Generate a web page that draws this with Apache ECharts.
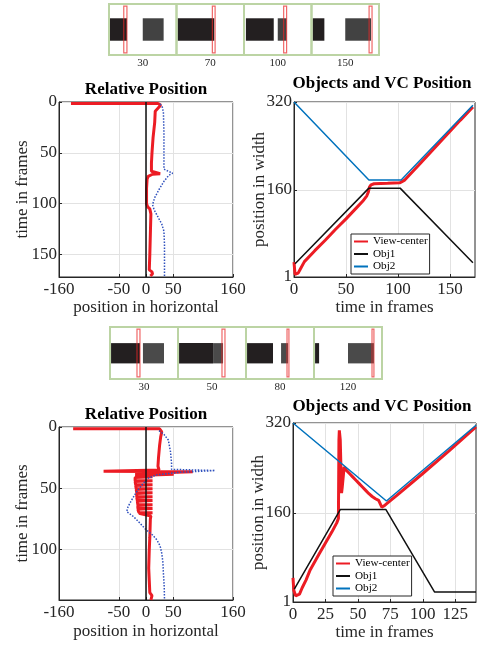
<!DOCTYPE html>
<html>
<head>
<meta charset="utf-8">
<script src="https://cdn.jsdelivr.net/npm/echarts@6/dist/echarts.min.js"></script>
<style>html,body{margin:0;padding:0;background:#fff}#chart{width:486px;height:646px}</style>
</head>
<body>
<div id="chart"></div>
<script>
// ---------- frame strips: [frame slot, left, right] in image columns (0..320) ----------
const stripTopLabels = ['30', '70', '100', '150'];
const stripTopObj1 = [[0, 0, 85], [1, 5, 179], [2, 9, 141], [3, 5, 61]];
const stripTopObj2 = [[0, 160, 259], [2, 160, 202], [3, 160, 282]];
const stripTopVC = [[0, 70, 85], [1, 170, 183], [2, 188, 202], [3, 273, 287]];

const stripBotLabels = ['30', '50', '80', '120'];
const stripBotObj1 = [[0, 5, 141], [1, 5, 165], [2, 5, 127], [3, 5, 24]];
const stripBotObj2 = [[0, 155, 254], [1, 165, 212], [2, 165, 198], [3, 160, 282]];
const stripBotVC = [[0, 127, 141], [1, 207, 221], [2, 193, 202], [3, 273, 282]];

// ---------- sequence A: relative position [horizontal, frame] ----------
const relRedA = [[-138, 1.5], [22, 1.5], [27, 3], [24, 5], [17, 9], [16, 20], [13, 35], [11, 50], [10, 60],
  [10, 68], [12, 69.5], [26, 70.5], [12, 71], [4, 73], [2, 76], [1, 85], [1, 100], [3, 103], [7, 105],
  [9, 110], [8, 130], [7, 150], [6, 165], [11, 167], [12, 169], [8, 171]];
const relBlueA = [[26, 2], [30, 5], [32, 10], [33, 30], [33, 50], [33, 66], [49, 70], [42, 72], [33, 78],
  [24, 86], [16, 94], [12, 101], [15, 106], [22, 113], [29, 120], [33, 127], [34, 140], [34, 172]];
const relZeroA = [[0, 0], [0, 172]];

// ---------- sequence A: absolute position [frame, width] ----------
const vcA = [[0, 28], [1, 6], [2.5, 3], [4, 8], [6, 15], [10, 29], [20, 49], [30, 68], [40, 88], [50, 107],
  [60, 127], [66, 139], [70, 149], [71.5, 156], [72.5, 165], [74, 169], [77, 171], [90, 172], [102, 173],
  [106, 177], [120, 205], [140, 246], [160, 287], [172, 311]];
const obj1A = [[1, 25], [72, 163], [102, 163], [172, 27]];
const obj2A = [[0, 320], [72, 178], [103, 178], [172, 314]];

// ---------- sequence B: relative position ----------
const relRedB = [[-134, 1.5], [25, 1.5], [29, 4], [27, 8], [25, 15], [23, 25], [22, 32], [24, 35],
  [-78, 36], [86, 36.4], [-20, 38], [51, 38.6], [-20, 39.5],
  [-20, 40.5], [12, 40.5], [-20, 41.1], [-20, 43.8], [12, 43.8], [-20, 44.4], [-19, 47], [12, 47], [-19, 47.6],
  [-18, 50.3], [12, 50.3], [-18, 50.9], [-17, 53.5], [12, 53.5], [-17, 54.1], [-17, 56.8], [12, 56.8],
  [-17, 57.4], [-16, 60], [12, 60], [-16, 60.6], [-15, 63.3], [12, 63.3], [-15, 63.9], [-15, 66.5],
  [12, 66.5], [-15, 67.1], [-13, 69.8], [12, 69.8], [-13, 70.4], [9, 72.5], [8, 75], [7, 90], [6, 100],
  [5, 115], [6, 125], [7, 135], [11, 137.5], [12, 139], [9, 141]];
const relBlueB = [[24, 3], [33, 6], [41, 10.6], [45, 20], [47, 29.5], [47, 34.5], [127, 35.5], [60, 37],
  [20, 39], [4, 41.7], [-5, 46], [-17, 52.6], [-27, 60], [-33, 65], [-35.5, 69], [-23, 73], [-12, 78],
  [0, 83.7], [12, 88], [20, 92], [26, 97], [29, 103], [31, 110], [32, 119], [33.5, 130], [34, 141]];
const relZeroB = [[0, 0], [0, 141]];

// ---------- sequence B: absolute position ----------
const vcB = [[0, 44], [0.6, 22], [2, 12], [3.3, 10], [5, 15], [7, 26], [10, 40], [13, 57], [20, 86],
  [25, 106], [30, 126], [33.7, 142], [35, 150], [35.4, 290], [35.7, 307], [36.4, 290], [37.4, 195],
  [37.9, 205], [39.4, 242], [41, 236], [42, 237], [43.5, 230], [44.5, 231], [46, 224], [47, 225],
  [48.5, 218], [49.5, 219], [51, 212], [52, 213], [53.5, 206], [54.5, 207], [56, 200], [57, 201],
  [58.5, 194], [59.5, 195], [61, 189], [62, 190], [63.5, 185], [64.5, 186], [66, 182], [67, 180],
  [68.4, 170], [70, 172], [72, 176], [80, 191], [100, 230], [120, 270], [141, 313]];
const obj1B = [[1, 24], [36.5, 166], [71.5, 166], [109, 19], [141, 19]];
const obj2B = [[0, 320], [72, 181], [141, 316]];

// ---------- tick labels ----------
const relTicks = [-160, -50, 0, 50, 160];
const frameTicksA = [0, 50, 100, 150];
const frameTicksB = [0, 50, 100];
const widthTicks = [1, 160, 320];
const timeTicksA = [0, 50, 100, 150];
const timeTicksB = [0, 25, 50, 75, 100, 125];

const FONT = 'Liberation Serif';
const INK = '#262626';
const RED = '#ec1c24';
const BLACK = '#111111';
const BLUE = '#0072BD';
const DOT = '#2f50bd';

function plotAxis(grid, ticks, extra, labelMargin) {
  return Object.assign({
    type: 'value', gridIndex: grid,
    axisLine: { show: true, onZero: false, lineStyle: { color: INK, width: 1 } },
    axisTick: { show: true, inside: true, length: 3, customValues: ticks, lineStyle: { color: INK } },
    axisLabel: { color: INK, fontFamily: FONT, fontSize: 17, margin: labelMargin || 4, customValues: ticks },
    splitLine: { show: true, lineStyle: { color: '#e2e2e2', width: 1 } },
    nameLocation: 'middle',
    nameMoveOverlap: false,
    nameTextStyle: { color: INK, fontFamily: FONT, fontSize: 17 }
  }, extra);
}

function line(name, data, x, y, color, width, type) {
  return {
    type: 'line', name, data, xAxisIndex: x, yAxisIndex: y,
    symbol: 'none', showSymbol: false, animation: false, clip: true,
    lineStyle: { color, width, type: type || 'solid' }, itemStyle: { color }
  };
}

// strip drawing: frame slots hold 320 image columns each
function barSeries(data, x, y, fill, y0, y1, outline) {
  return {
    type: 'custom', data, xAxisIndex: x, yAxisIndex: y, animation: false, z: outline ? 4 : 3,
    renderItem: function (params, api) {
      const f = api.value(0), a = api.value(1), b = api.value(2);
      const p0 = api.coord([f + a / 320, y1]);
      const p1 = api.coord([f + b / 320, y0]);
      return {
        type: 'rect',
        shape: { x: p0[0], y: p0[1], width: p1[0] - p0[0], height: p1[1] - p0[1] },
        style: outline ? { fill: 'rgba(255,255,255,0)', stroke: 'rgba(232,40,40,0.7)', lineWidth: 1.2 } : { fill }
      };
    }
  };
}
function frameSeries(labels, x, y) {
  return {
    type: 'custom', data: labels.map((_, i) => [i]), xAxisIndex: x, yAxisIndex: y, animation: false, z: 5,
    renderItem: function (params, api) {
      const f = api.value(0);
      const p0 = api.coord([f, 1]);
      const p1 = api.coord([f + 1, 0]);
      return {
        type: 'rect',
        shape: { x: p0[0], y: p0[1], width: p1[0] - p0[0], height: p1[1] - p0[1] },
        style: { fill: 'rgba(255,255,255,0)', stroke: '#bcd4a4', lineWidth: 2 }
      };
    }
  };
}
function stripLabelAxis(grid, labels) {
  return {
    type: 'category', gridIndex: grid, position: 'bottom', data: labels, boundaryGap: true,
    axisLine: { show: false }, axisTick: { show: false }, splitLine: { show: false },
    axisLabel: { fontFamily: FONT, fontSize: 11, color: INK, margin: 3 }
  };
}

const gridBox = { show: true, borderColor: INK, borderWidth: 1, backgroundColor: 'rgba(0,0,0,0)', containLabel: false, outerBoundsMode: 'none' };
const titleStyle = { fontFamily: FONT, fontSize: 17, fontWeight: 'bold', color: '#000' };
const legendBase = {
  data: ['View-center', 'Obj1', 'Obj2'], orient: 'vertical', padding: [2, 2, 2, 2], itemGap: 1.5,
  itemWidth: 14, itemHeight: 10, borderColor: INK, borderWidth: 1, backgroundColor: '#fff',
  itemStyle: { opacity: 0 },
  textStyle: { fontFamily: FONT, fontSize: 11.2, color: '#000' }, selectedMode: false
};

const option = {
  backgroundColor: '#fff',
  animation: false,
  title: [
    { text: 'Relative Position', left: 146, top: 81, textAlign: 'center', padding: 0, textStyle: titleStyle },
    { text: 'Objects and VC Position', left: 382, top: 75, textAlign: 'center', padding: 0, textStyle: titleStyle },
    { text: 'Relative Position', left: 146, top: 406, textAlign: 'center', padding: 0, textStyle: titleStyle },
    { text: 'Objects and VC Position', left: 382, top: 398, textAlign: 'center', padding: 0, textStyle: titleStyle }
  ],
  legend: [
    Object.assign({ left: 351, top: 234 }, legendBase),
    Object.assign({ left: 333, top: 556 }, legendBase)
  ],
  grid: [
    Object.assign({ left: 59, top: 102, width: 174, height: 175 }, gridBox),
    Object.assign({ left: 294, top: 102, width: 181, height: 175 }, gridBox),
    Object.assign({ left: 59, top: 427, width: 174, height: 173 }, gridBox),
    Object.assign({ left: 293, top: 423, width: 183, height: 179 }, gridBox),
    { left: 109, top: 4, width: 270, height: 51, show: false, outerBoundsMode: 'none' },
    { left: 110, top: 327, width: 272, height: 52, show: false, outerBoundsMode: 'none' }
  ],
  xAxis: [
    plotAxis(0, relTicks, { min: -160, max: 160, name: 'position in horizontal', nameGap: 22 }),
    plotAxis(1, timeTicksA, { min: 0, max: 174, name: 'time in frames', nameGap: 22 }),
    plotAxis(2, relTicks, { min: -160, max: 160, name: 'position in horizontal', nameGap: 23 }),
    plotAxis(3, timeTicksB, { min: 0, max: 141, name: 'time in frames', nameGap: 22 }),
    { type: 'value', gridIndex: 4, position: 'bottom', min: 0, max: 4, show: false },
    stripLabelAxis(4, stripTopLabels),
    { type: 'value', gridIndex: 5, position: 'bottom', min: 0, max: 4, show: false },
    stripLabelAxis(5, stripBotLabels)
  ],
  yAxis: [
    plotAxis(0, frameTicksA, { min: 0, max: 172, inverse: true, name: 'time in frames', nameGap: 27.5 }, 2),
    plotAxis(1, widthTicks, { min: 1, max: 320, name: 'position in width', nameGap: 26 }, 2),
    plotAxis(2, frameTicksB, { min: 0, max: 141, inverse: true, name: 'time in frames', nameGap: 27.5 }, 2),
    plotAxis(3, widthTicks, { min: 1, max: 320, name: 'position in width', nameGap: 26 }, 2),
    { type: 'value', gridIndex: 4, min: 0, max: 1, show: false },
    { type: 'value', gridIndex: 5, min: 0, max: 1, show: false }
  ],
  series: [
    // top strip
    barSeries(stripTopObj1, 4, 4, '#231f20', 0.28, 0.72, false),
    barSeries(stripTopObj2, 4, 4, '#424242', 0.28, 0.72, false),
    barSeries(stripTopVC, 4, 4, null, 0.04, 0.96, true),
    frameSeries(stripTopLabels, 4, 4),
    // bottom strip
    barSeries(stripBotObj1, 6, 5, '#231f20', 0.3, 0.69, false),
    barSeries(stripBotObj2, 6, 5, '#4a4a4a', 0.3, 0.69, false),
    barSeries(stripBotVC, 6, 5, null, 0.04, 0.96, true),
    frameSeries(stripBotLabels, 6, 5),
    // sequence A
    line('Offset A', relRedA, 0, 0, RED, 3),
    line('Offset A2', relBlueA, 0, 0, DOT, 1.5, 'dotted'),
    line('Centre A', relZeroA, 0, 0, BLACK, 1.5),
    line('View-center', vcA, 1, 1, RED, 3),
    line('Obj1', obj1A, 1, 1, BLACK, 1.5),
    line('Obj2', obj2A, 1, 1, BLUE, 1.5),
    // sequence B
    line('Offset B', relRedB, 2, 2, RED, 3),
    line('Offset B2', relBlueB, 2, 2, DOT, 1.5, 'dotted'),
    line('Centre B', relZeroB, 2, 2, BLACK, 1.5),
    line('View-center', vcB, 3, 3, RED, 3),
    line('Obj1', obj1B, 3, 3, BLACK, 1.5),
    line('Obj2', obj2B, 3, 3, BLUE, 1.5)
  ]
};

const chart = echarts.init(document.getElementById('chart'), null, { renderer: 'canvas' });
chart.setOption(option);
</script>
</body>
</html>
